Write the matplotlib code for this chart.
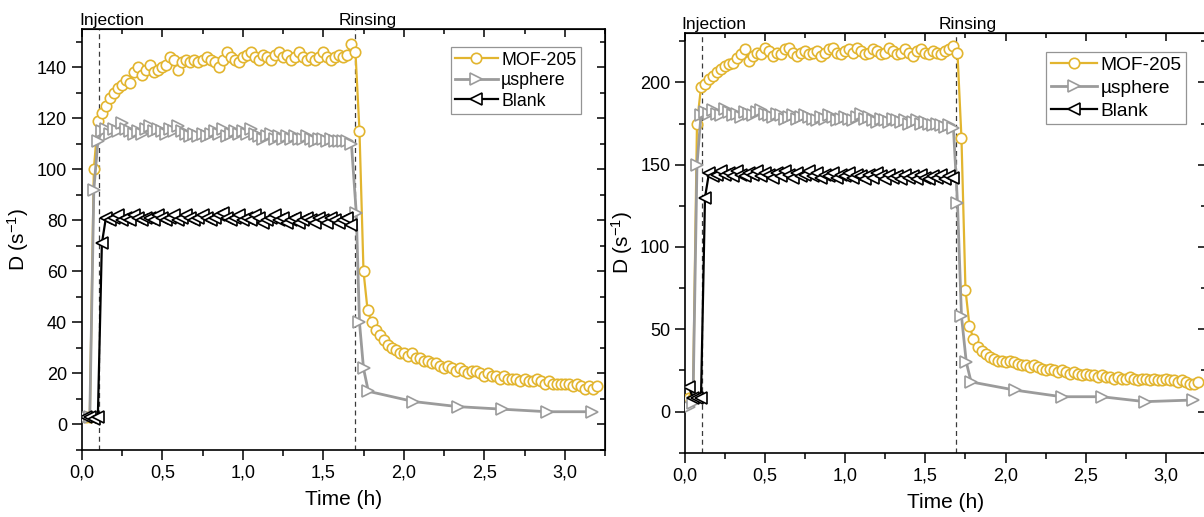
import numpy as np
import matplotlib.pyplot as plt
from matplotlib.ticker import MultipleLocator, FuncFormatter

plt.rcParams['font.family'] = ['Liberation Sans', 'DejaVu Sans']
plt.rcParams['mathtext.default'] = 'regular'

# --- DONNEES ---
DT = 0.025  # pas d'acquisition (h)

# Panneau gauche
MOF_G = [3, 3, 100, 119, 122, 125, 128, 130, 132, 133,
         135, 134, 138, 140, 137, 139, 141, 138, 139, 140,
         141, 144, 143, 139, 142, 143, 142, 143, 142, 143,
         144, 143, 142, 140, 143, 146, 144, 143, 142, 144,
         145, 146, 144, 143, 145, 144, 143, 145, 146, 144,
         145, 143, 144, 146, 144, 143, 144, 143, 144, 146,
         144, 143, 144, 145, 144, 145, 149, 146,
         115, 60, 45, 40, 37, 35, 33, 31, 30, 29,
         28, 28, 27, 28, 26, 26, 25, 25, 24, 24,
         23, 22, 23, 22, 21, 22, 21, 20, 21, 21,
         20, 19, 20, 19, 19, 18, 19, 18, 18, 18,
         17, 18, 17, 17, 18, 17, 16, 17, 16, 16,
         16, 16, 16, 15, 16, 15, 14, 15, 14, 15]
SPHERE_G = [3, 3, 92, 111, 115, 116, 114, 116, 115, 118,
            116, 115, 114, 115, 114, 116, 117, 115, 116, 115,
            114, 116, 115, 117, 115, 114, 113, 114, 113, 114,
            113, 114, 115, 114, 116, 113, 114, 115, 114, 115,
            114, 116, 114, 113, 112, 113, 114, 112, 113, 112,
            113, 112, 113, 112, 112, 113, 112, 111, 112, 112,
            111, 112, 111, 111, 111, 111, 110]
T_RINCAGE_SPHERE_G = [1.705, 1.725, 1.75, 1.78, 2.06, 2.335, 2.61, 2.89, 3.17]
RINCAGE_SPHERE_G = [83, 40, 22, 13, 9, 7, 6, 5, 5]
BLANK_G = [3, 3, 2, 3, 71, 81, 80, 81, 82, 80,
           81, 80, 82, 81, 80, 81, 81, 80, 82, 81,
           80, 81, 82, 80, 81, 82, 81, 80, 81, 82,
           81, 80, 81, 82, 83, 81, 80, 81, 82, 80,
           81, 80, 82, 81, 79, 80, 81, 82, 80, 81,
           79, 80, 81, 79, 80, 81, 80, 79, 81, 80,
           79, 81, 80, 79, 80, 81, 78]

# Panneau droit
MOF_D = [8, 8, 175, 197, 199, 202, 204, 206, 208, 210,
         211, 212, 215, 217, 220, 213, 216, 218, 217, 221,
         219, 216, 218, 217, 220, 221, 218, 216, 218, 219,
         217, 218, 219, 216, 218, 220, 221, 218, 217, 219,
         220, 218, 221, 219, 217, 218, 220, 219, 217, 218,
         221, 219, 217, 218, 220, 218, 216, 219, 220, 218,
         217, 219, 218, 217, 219, 220, 222, 218,
         166, 74, 52, 44, 39, 37, 35, 33, 32, 31,
         31, 30, 31, 30, 29, 28, 28, 27, 28, 27,
         26, 25, 26, 25, 24, 25, 24, 23, 24, 23,
         22, 23, 22, 22, 21, 22, 21, 21, 20, 21,
         20, 20, 21, 20, 19, 20, 20, 19, 20, 19,
         19, 20, 19, 19, 18, 19, 18, 17, 17, 18]
SPHERE_D = [3, 5, 150, 180, 182, 181, 183, 181, 180, 184,
            182, 180, 181, 179, 182, 181, 180, 182, 183, 181,
            180, 179, 181, 180, 178, 179, 180, 178, 179, 180,
            179, 178, 177, 179, 178, 180, 179, 177, 178, 179,
            178, 177, 179, 181, 178, 179, 177, 176, 178, 177,
            176, 178, 177, 176, 177, 175, 176, 177, 175, 176,
            175, 174, 175, 174, 173, 174, 172]
T_RINCAGE_SPHERE_D = [1.70, 1.725, 1.755, 1.785, 2.06, 2.35, 2.60, 2.87, 3.17]
RINCAGE_SPHERE_D = [127, 58, 30, 18, 13, 9, 9, 6, 7]
BLANK_D = [15, 8, 8, 8, 130, 145, 143, 144, 146, 144,
           145, 143, 146, 144, 143, 145, 144, 146, 143, 145,
           144, 142, 145, 143, 146, 144, 142, 145, 143, 144,
           146, 143, 145, 142, 144, 143, 145, 142, 144, 143,
           145, 142, 144, 143, 141, 144, 142, 145, 143, 141,
           144, 142, 143, 141, 144, 142, 143, 141, 144, 142,
           141, 143, 142, 144, 141, 143, 142]

LABELS = ['MOF-205', 'µsphere', 'Blank']
OR = '#E2B52F'
GRIS = '#9B9B9B'


def virgule(x, pos):
    return f"{x:.1f}".replace('.', ',')


def tracer_panneau(ax, mof, sphere, t_rinc, rinc, blank, events, ylim, ymaj, yminr,
                   leg_anchor, leg_size, leg_spacing):
    t_mof = DT * np.arange(1, len(mof) + 1)
    t_sph = np.concatenate([DT * np.arange(1, len(sphere) + 1), t_rinc])
    v_sph = list(sphere) + list(rinc)
    t_blk = DT * np.arange(1, len(blank) + 1)

    for x in events:
        ax.axvline(x, color='#3a3a3a', lw=0.9, ls=(0, (4, 3)), zorder=1)

    ax.plot(t_mof, mof, color=OR, lw=1.6, marker='o', ms=7.5, mfc='white', mec=OR, mew=1.2,
            label=LABELS[0], zorder=3)
    ax.plot(t_sph, v_sph, color=GRIS, lw=2.0, marker='>', ms=8, mfc='white', mec=GRIS, mew=1.2,
            label=LABELS[1], zorder=4)
    ax.plot(t_blk, blank, color='black', lw=1.6, marker='<', ms=8, mfc='white', mec='black', mew=1.2,
            label=LABELS[2], zorder=5)

    ax.set_xlim(0, 3.25)
    ax.set_ylim(*ylim)
    ax.xaxis.set_major_locator(MultipleLocator(0.5))
    ax.xaxis.set_minor_locator(MultipleLocator(0.25))
    ax.xaxis.set_major_formatter(FuncFormatter(virgule))
    ax.yaxis.set_major_locator(MultipleLocator(ymaj))
    ax.yaxis.set_minor_locator(MultipleLocator(yminr))
    ax.tick_params(which='both', direction='out', width=1.1, labelsize=13)
    ax.tick_params(which='major', length=7)
    ax.tick_params(which='minor', length=4)
    for s in ax.spines.values():
        s.set_linewidth(1.2)

    # graduations internes en haut et a droite (style Origin)
    haut = ax.secondary_xaxis('top')
    haut.xaxis.set_major_locator(MultipleLocator(0.5))
    haut.xaxis.set_minor_locator(MultipleLocator(0.25))
    haut.tick_params(which='both', direction='in', width=1.1, labeltop=False)
    haut.tick_params(which='major', length=6)
    haut.tick_params(which='minor', length=3.5)
    droite = ax.secondary_yaxis('right')
    droite.yaxis.set_major_locator(MultipleLocator(ymaj))
    droite.yaxis.set_minor_locator(MultipleLocator(yminr))
    droite.tick_params(which='both', direction='in', width=1.1, labelright=False)
    droite.tick_params(which='major', length=6)
    droite.tick_params(which='minor', length=3.5)

    for nom, x in zip(['Injection', 'Rinsing'], events):
        ax.annotate(nom, xy=(x + 0.075, 1.0), xycoords=('data', 'axes fraction'),
                    xytext=(0, 0.5), textcoords='offset points',
                    ha='center', va='bottom', fontsize=12.5)

    ax.set_xlabel('Time (h)', fontsize=15, labelpad=6)
    ax.set_ylabel('D (s$^{-1}$)', fontsize=15, labelpad=4)

    leg = ax.legend(loc='upper right', bbox_to_anchor=leg_anchor, borderaxespad=0,
                    fontsize=leg_size, frameon=True, fancybox=False, numpoints=1,
                    handlelength=2.4, handletextpad=0.2, labelspacing=leg_spacing,
                    borderpad=0.25)
    leg.get_frame().set_edgecolor('#7a7a7a')
    leg.get_frame().set_linewidth(0.9)


fig = plt.figure(figsize=(12.04, 5.17), dpi=100)
ax_g = fig.add_axes([0.0679, 0.1296, 0.4346, 0.8143])
ax_d = fig.add_axes([0.5689, 0.1244, 0.4327, 0.8118])

tracer_panneau(ax_g, MOF_G, SPHERE_G, T_RINCAGE_SPHERE_G, RINCAGE_SPHERE_G, BLANK_G,
               [0.11, 1.70], (-10, 155), 20, 10, (0.954, 0.957), 12.8, 0.2)
tracer_panneau(ax_d, MOF_D, SPHERE_D, T_RINCAGE_SPHERE_D, RINCAGE_SPHERE_D, BLANK_D,
               [0.107, 1.69], (-25, 230), 50, 25, (0.962, 0.955), 13.8, 0.28)

fig.savefig('out.png', dpi=100)
